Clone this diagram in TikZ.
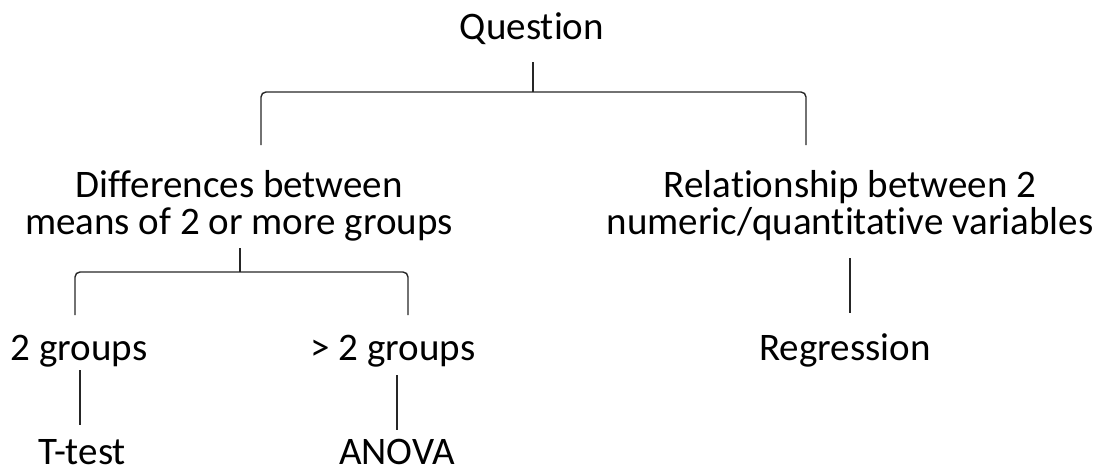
\documentclass[tikz,border=0pt]{standalone}
\usepackage{fontspec}
\setmainfont[Ligatures=NoCommon]{Carlito}
\begin{document}
\begin{tikzpicture}[x=1pt,y=-1pt,
  lbl/.style={inner sep=0pt,align=center,font=\fontsize{39}{37}\selectfont},
  ln/.style={line width=1.4pt,black!85},
  brace/.style={ln,rounded corners=5pt}]
\useasboundingbox (0,0) rectangle (1098,474);
\node[lbl,anchor=base] (q) at (532,39) {Question};
\node[lbl,anchor=base] (diff) at (239,234) {Differences between\\means of 2 or more groups};
\node[lbl,anchor=base] (rel) at (850,234) {Relationship between 2\\numeric/quantitative variables};
\node[lbl,anchor=base] (g2) at (79,360) {2 groups};
\node[lbl,anchor=base] (gm) at (393,360) {> 2 groups};
\node[lbl,anchor=base] (tt) at (82,464) {T-test};
\node[lbl,anchor=base] (anova) at (397,464) {ANOVA};
\node[lbl,anchor=base] (reg) at (845,360) {Regression};
% top brace
\coordinate (qs) at (533,62);
\coordinate (qj) at (533,92);
\coordinate (ql) at (261,145);
\coordinate (qr) at (806,145);
\draw[ln] (qs) -- (qj);
\draw[brace] (ql) -- (ql|-qj) -- (qr|-qj) -- (qr);
% lower brace
\coordinate (ds) at (240,248);
\coordinate (dj) at (240,272);
\coordinate (dl) at (75,315);
\coordinate (dr) at (408,315);
\draw[ln] (ds) -- (dj);
\draw[brace] (dl) -- (dl|-dj) -- (dr|-dj) -- (dr);
% single stems
\coordinate (a1) at (80,370); \coordinate (a2) at (80,425);
\draw[ln] (a1) -- (a2);
\coordinate (b1) at (397,375); \coordinate (b2) at (397,430);
\draw[ln] (b1) -- (b2);
\coordinate (c1) at (850,258); \coordinate (c2) at (850,313);
\draw[ln] (c1) -- (c2);
\end{tikzpicture}
\end{document}
